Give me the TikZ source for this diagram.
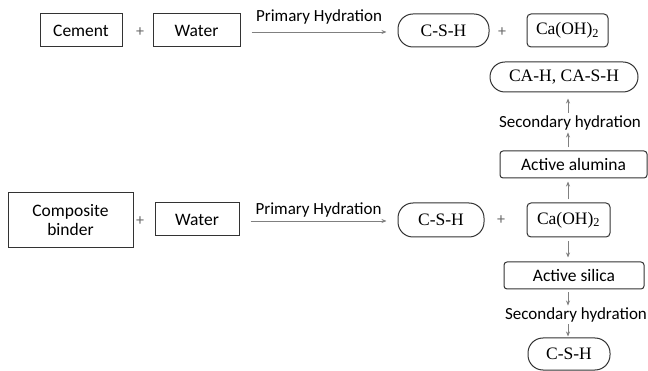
\documentclass[tikz,border=0pt]{standalone}
\usepackage{fontspec}
\setmainfont{Liberation Serif}
\setsansfont{Carlito}
\usetikzlibrary{arrows.meta}

\begin{document}
\begin{tikzpicture}[x=1pt, y=-1pt,
    box/.style={draw=black!80, line width=1pt, minimum height=33pt, inner sep=2pt, font=\sffamily\fontsize{17.5}{19}\selectfont},
    chem/.style={draw=black!80, line width=1pt, minimum height=33pt, inner sep=2pt, rounded corners=4pt, font=\fontsize{17.5}{19}\selectfont},
    pill/.style={chem, rounded corners=15pt},
    plus/.style={text=black!60, font=\sffamily\fontsize{16}{18}\selectfont},
    lab/.style={inner sep=1pt, font=\sffamily\fontsize{17}{19}\selectfont},
    reac/.style={draw=black!50, line width=0.7pt, -{Stealth[length=5pt, width=4pt]}}]
    \useasboundingbox (0,0) rectangle (648,371);

    % cement line
    \node[box, minimum width=82pt] (cement) at (81, 30.5) {Cement};
    \node[plus] (p1) at (140, 32) {+};
    \node[box, minimum width=87pt] (water1) at (196.5, 30.5) {Water};
    \node[pill, minimum width=91pt] (csh1) at (443.5, 30.5) {C-S-H};
    \node[plus] (p2) at (502, 32) {+};
    \node[chem, minimum width=81pt] (ca1) at (567.5, 30.5) {Ca(OH)\textsubscript{2}};

    % composite binder line
    \node[box, minimum width=125pt, minimum height=55pt, align=center] (binder) at (70.5, 220.5) {Composite\\binder};
    \node[plus] (p3) at (140, 221) {+};
    \node[box, minimum width=84pt] (water2) at (197, 219.5) {Water};
    \node[pill, minimum width=86pt, minimum height=34pt] (csh2) at (441, 220) {C-S-H};
    \node[plus] (p4) at (501, 220) {+};
    \node[chem, minimum width=83pt, minimum height=34pt] (ca2) at (568.5, 220) {Ca(OH)\textsubscript{2}};

    % secondary products
    \node[box, rounded corners=3pt, minimum width=147pt, minimum height=27pt] (alumina) at (573.5, 164.5) {Active alumina};
    \node[lab] (sec1) at (570, 123) {Secondary hydration};
    \node[pill, minimum width=148pt, minimum height=30pt] (cah) at (564, 77) {CA-H, CA-S-H};
    \node[box, rounded corners=3pt, minimum width=140pt, minimum height=27pt] (silica) at (574, 275.5) {Active silica};
    \node[lab] (sec2) at (576, 315) {Secondary hydration};
    \node[pill, minimum width=82pt, minimum height=32pt] (csh3) at (569, 354) {C-S-H};

    \coordinate (axis) at (568, 0);

    \draw[reac, shorten <=11pt, shorten >=11pt] (water1.east |- 0,32) -- node[lab, above=6pt] {Primary Hydration} (csh1.west |- 0,32);
    \draw[reac, shorten <=11pt, shorten >=11pt] (water2.east |- 0,221) -- node[lab, above=2pt] {Primary Hydration} (csh2.west |- 0,221);

    \draw[reac, shorten <=3pt, shorten >=3pt] (ca2.north -| axis) -- (alumina.south -| axis);
    \draw[reac, shorten <=3pt, shorten >=1pt] (alumina.north -| axis) -- (sec1.south -| axis);
    \draw[reac, shorten <=2pt, shorten >=6pt] (sec1.north -| axis) -- (cah.south -| axis);
    \draw[reac, shorten <=4pt, shorten >=4pt] (ca2.south -| axis) -- (silica.north -| axis);
    \draw[reac, shorten <=3pt, shorten >=1pt] (silica.south -| axis) -- (sec2.north -| axis);
    \draw[reac, shorten <=1pt, shorten >=1pt] (sec2.south -| axis) -- (csh3.north -| axis);
\end{tikzpicture}
\end{document}
